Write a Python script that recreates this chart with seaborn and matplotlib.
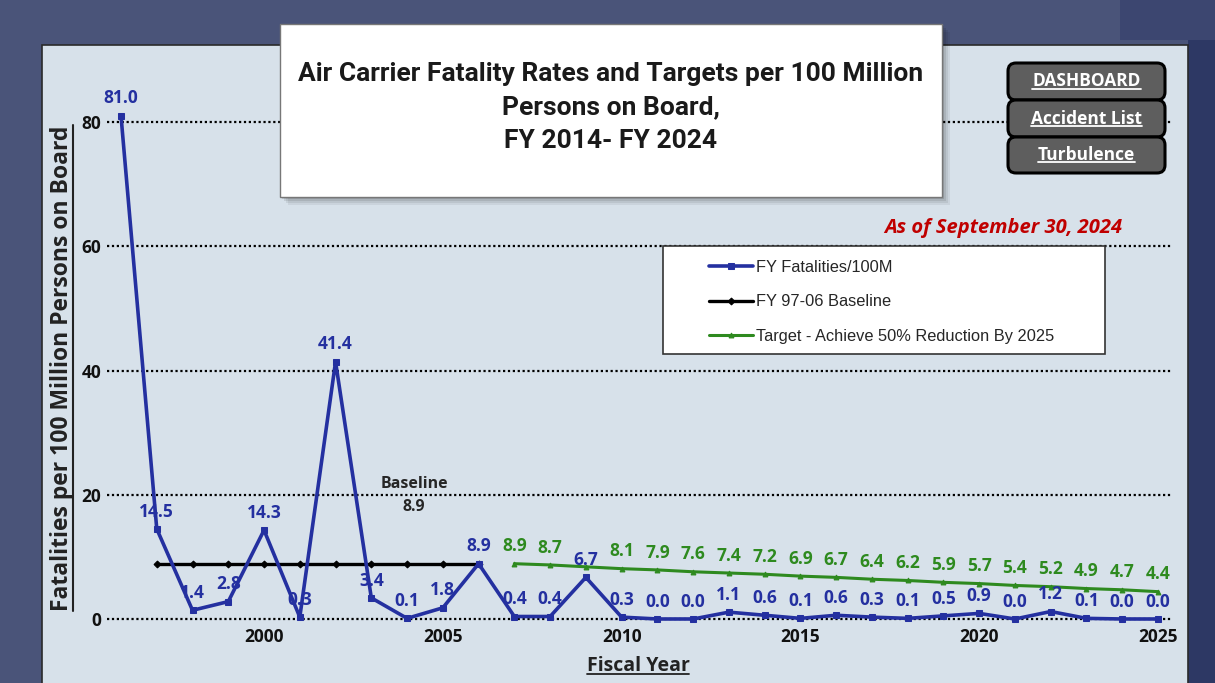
import matplotlib
matplotlib.use("Agg")
import matplotlib.pyplot as plt
import matplotlib.patches as mpatches
from matplotlib.lines import Line2D
from matplotlib.transforms import IdentityTransform
import seaborn as sns

# data
years = list(range(1996, 2026))
fatality_rate = [81.0, 14.5, 1.4, 2.8, 14.3, 0.3, 41.4, 3.4, 0.1, 1.8,
                 8.9, 0.4, 0.4, 6.7, 0.3, 0.0, 0.0, 1.1, 0.6, 0.1,
                 0.6, 0.3, 0.1, 0.5, 0.9, 0.0, 1.2, 0.1, 0.0, 0.0]
baseline_years = list(range(1997, 2007))
baseline_rate = [8.9, 8.9, 8.9, 8.9, 8.9, 8.9, 8.9, 8.9, 8.9, 8.9]
target_years = list(range(2007, 2026))
target_rate = [8.9, 8.7, 8.4, 8.1, 7.9, 7.6, 7.4, 7.2, 6.9, 6.7,
               6.4, 6.2, 5.9, 5.7, 5.4, 5.2, 4.9, 4.7, 4.4]
y_ticks = [0, 20, 40, 60, 80]
x_ticks = [2000, 2005, 2010, 2015, 2020, 2025]
series_names = ["FY Fatalities/100M", "FY 97-06 Baseline",
                "Target - Achieve 50% Reduction By 2025"]
buttons = ["DASHBOARD", "Accident List", "Turbulence"]

W, H = 1215, 683
BLUE = "#2430a0"
GREEN = "#2e8a1f"
NAVY = "#4a5479"
PANEL = "#d7e1ea"

sns.set_style("white")
plt.rcParams["font.family"] = ["Open Sans", "DejaVu Sans"]

fig = plt.figure(figsize=(W / 100, H / 100), dpi=100)
fig.patch.set_facecolor(NAVY)
PIX = IdentityTransform()


def box(x0, y0, x1, y1, **kw):
    # rectangle in image pixel coords (top-left origin)
    p = mpatches.FancyBboxPatch((x0, H - y1), x1 - x0, y1 - y0,
                                transform=PIX, **kw)
    fig.add_artist(p)
    return p


# background pieces
box(1188, 0, 1215, 683, boxstyle="square,pad=0", fc="#2d3864", ec="none", zorder=-20)
box(1120, 0, 1215, 40, boxstyle="square,pad=0", fc="#3c4670", ec="none", zorder=-20)
box(42, 45, 1188, 690, boxstyle="square,pad=0", fc=PANEL, ec="#2a2a2a", lw=1.2, zorder=-10)

# axes placed so data lands where it does in the picture
ax = fig.add_axes([106.7 / W, 1 - 625.2 / H, (1172.3 - 106.7) / W, (625.2 - 59.9) / H])
ax.patch.set_alpha(0)
ax.set_xlim(1995.6, 2025.4)
ax.set_ylim(-1, 90)

sns.lineplot(x=years, y=fatality_rate, ax=ax, color=BLUE, lw=2.6, marker="s",
             markersize=5, markeredgecolor=BLUE, label=series_names[0], zorder=4)
sns.lineplot(x=baseline_years, y=baseline_rate, ax=ax, color="black", lw=2.4, marker="D",
             markersize=3.5, markeredgecolor="black", label=series_names[1], zorder=3)
sns.lineplot(x=target_years, y=target_rate, ax=ax, color=GREEN, lw=2.2, marker="^",
             markersize=3.5, markeredgecolor=GREEN, label=series_names[2], zorder=3)

ax.set_yticks(y_ticks)
ax.set_xticks(x_ticks)
ax.tick_params(length=0, labelsize=12.5)
ax.tick_params(axis="y", pad=4)
ax.tick_params(axis="x", pad=2)
for lab in ax.get_xticklabels() + ax.get_yticklabels():
    lab.set_fontweight("bold")
    lab.set_color("#111111")
ax.grid(axis="y", color="black", linestyle=(0, (1, 1.2)), lw=1.6)
ax.grid(axis="x", visible=False)
sns.despine(ax=ax, left=True, bottom=True)
ax.set_xlabel("")
ax.set_ylabel("")

# value labels
for x, v in zip(years, fatality_rate):
    ax.annotate(f"{v:.1f}", (x, v), xytext=(0, 6), textcoords="offset points",
                ha="center", va="bottom", color=BLUE, fontsize=12.5, fontweight="bold", zorder=6)
for x, v in zip(target_years, target_rate):
    if x == 2009:
        continue
    ax.annotate(f"{v:.1f}", (x, v), xytext=(0, 6), textcoords="offset points",
                ha="center", va="bottom", color=GREEN, fontsize=12.5, fontweight="bold", zorder=6)
ax.text(2004.2, 19.9, f"Baseline\n{baseline_rate[0]:.1f}", ha="center", va="center",
        fontsize=11.5, fontweight="bold", color="#262626", linespacing=1.6)

# legend in a white frame
handles, labels = ax.get_legend_handles_labels()
box(663, 246, 1105, 354, boxstyle="square,pad=0", fc="white", ec="#333333", lw=1.2, zorder=5)
leg = fig.legend(handles, labels, loc="upper left", bbox_to_anchor=(694 / W, 1 - 245 / H),
                 frameon=False, handlelength=2.7, handletextpad=0.2, labelspacing=1.2,
                 prop={"family": "Liberation Sans", "size": 11.8})
leg.set_zorder(6)
ax.get_legend().remove()

# title box with shadow
for i, a in enumerate([0.06, 0.07, 0.09, 0.12]):
    d = 8 - 2 * i
    box(280 + d, 24 + d, 942 + d, 197 + d, boxstyle="square,pad=0", fc="black",
        ec="none", alpha=a, zorder=6)
box(280, 24, 942, 197, boxstyle="square,pad=0", fc="white", ec="#777777", lw=1, zorder=7)
fig.text(611 / W, 1 - 107 / H,
         "Air Carrier Fatality Rates and Targets per 100 Million\nPersons on Board,\nFY 2014- FY 2024",
         ha="center", va="center", fontsize=19, fontweight="bold", linespacing=1.5,
         family=["Roboto", "DejaVu Sans"], color="#1a1a1a", zorder=8)

fig.text(1122 / W, 1 - 228 / H, "As of September 30, 2024", ha="right", va="center",
         fontsize=14.5, fontweight="bold", style="italic", color="#c00000", zorder=8)

# nav buttons
btn_texts = []
for i, (name, (y0, y1)) in enumerate(zip(buttons, [(63, 100), (100, 137), (137, 173)])):
    box(1011, y0 + 3, 1162, y1 - 3, boxstyle="round,pad=3,rounding_size=8",
        fc="#5e5e5e", ec="black", lw=2.2, zorder=7 + i * 0.1)
    t = fig.text(1086.5 / W, 1 - (y0 + y1) / 2 / H, name, ha="center", va="center",
                 fontsize=12.5, fontweight="bold", color="white", zorder=8)
    btn_texts.append(t)

ylab = fig.text(62 / W, 1 - 368 / H, "Fatalities per 100 Million Persons on Board",
                rotation=90, ha="center", va="center", fontsize=16.5, fontweight="bold",
                color="#222222")
xlab = fig.text(638 / W, 1 - 666 / H, "Fiscal Year", ha="center", va="center",
                fontsize=14, fontweight="bold", color="#222222")

# underline texts
fig.canvas.draw()
r = fig.canvas.get_renderer()
for t, c in [(xlab, "#222222")] + [(b, "white") for b in btn_texts]:
    bb = t.get_window_extent(renderer=r)
    fig.add_artist(Line2D([bb.x0, bb.x1], [bb.y0 + 2, bb.y0 + 2], transform=PIX,
                          color=c, lw=1.3, zorder=9))
bb = ylab.get_window_extent(renderer=r)
fig.add_artist(Line2D([bb.x1 - 1, bb.x1 - 1], [bb.y0, bb.y1], transform=PIX,
                      color="#222222", lw=1.5, zorder=9))

fig.savefig("out.png", dpi=100, facecolor=fig.get_facecolor())
